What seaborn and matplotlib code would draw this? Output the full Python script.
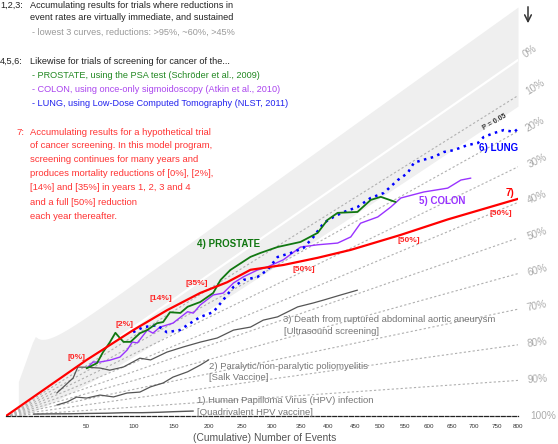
import numpy as np
import pandas as pd
import seaborn as sns
import matplotlib.pyplot as plt

# cumulative number of events and cumulative % mortality reduction
hpv_n = [10, 20, 35, 50, 70, 90, 110, 130, 150, 177]
hpv_red = [90, 93, 95, 95.5, 96, 96, 96.5, 96.5, 96.3, 96.2]

polio_n = [25, 33, 41, 50, 63, 77, 92, 107, 120, 136, 149, 169, 187, 199]
polio_red = [69, 67, 61.5, 68, 68, 74.5, 72.7, 74.3, 71, 69.8, 66.5, 65, 62.3, 60.2]

aaa_n = [25, 38, 42, 50, 63, 73, 88, 107, 120, 141, 163, 187, 212, 237, 264, 285,
         309, 344, 372, 391, 423, 455]
aaa_red = [35, 18.6, 2, 13, 26.7, 36.5, 40, 37.9, 44.2, 42.9, 44, 45.3, 46.9, 45.7,
           47.7, 46.4, 47.5, 46.2, 47.1, 47.5, 48, 48.5]

prostate_n = [50, 60, 66, 73, 79, 84, 88, 96, 107, 116, 128, 136, 145, 159, 169, 187,
              206, 217, 232, 264, 280, 309, 349, 380, 398, 417, 455, 481, 501, 531]
prostate_red = [15, 16.4, 5.3, -2, -9.4, 1.7, 9.3, 14.4, 11.1, 12.5, 11.6, 14, 9, 15,
                13.5, 15.6, 14.6, 8.8, 6.4, 6.4, 7.8, 10.5, 15, 15.5, 12.3, 11.9, 16.5,
                14.8, 15.9, 21]

colon_n = [51, 56, 63, 73, 84, 92, 98, 104, 116, 123, 132, 149, 169, 177, 187, 206,
           221, 237, 253, 275, 292, 319, 349, 380, 417, 442, 461, 495, 521, 542, 590,
           641, 670, 692]
colon_red = [14.2, 10.8, 17.5, 22.7, 25.6, 21.7, 15.8, 20, 12.5, 18.9, 17, 20, 17.4,
             21, 17.8, 16, 18.6, 15.9, 15.7, 16.5, 18, 19, 17.5, 21, 25, 25.3, 21.8,
             23, 21.9, 20.6, 22.9, 25.8, 25.4, 26.4]

lung_n = [99, 111, 128, 141, 159, 169, 187, 206, 221, 237, 253, 275, 292, 309, 331,
          354, 372, 391, 409, 428, 455, 481, 507, 535, 556, 569, 590, 611, 633, 654,
          685, 708, 721, 744, 767, 791, 800]
lung_red = [5.2, 6.9, 13.5, 25.2, 29, 27.8, 26.7, 27.9, 23.2, 18.4, 17.6, 20.5, 19.7,
            15.8, 17.6, 18.8, 16.3, 12.6, 12.6, 13.1, 14.5, 14, 15.1, 13.4, 13, 10.7,
            11.8, 12.9, 13.3, 14.6, 15.6, 16.8, 16, 16.6, 17.4, 19.6, 19.3]

model_n = [0, 50, 99, 141, 187, 227, 264, 319, 380, 442, 541, 641, 800]
model_red = [0, 0, 2.9, 5.5, 8.9, 13, 14, 21.7, 27, 30.7, 34, 36, 39]

fan_levels = [0, 10, 20, 30, 40, 50, 60, 70, 80, 90, 100]
x_ticks = [50, 100, 150, 200, 250, 300, 350, 400, 450, 500, 550, 600, 650, 700, 750, 800]


def fwd(x):
    x = np.asarray(x, dtype=float)
    return np.sign(x) * np.abs(x) ** (2 / 3)


def inv(x):
    x = np.asarray(x, dtype=float)
    return np.sign(x) * np.abs(x) ** 1.5


def height(n, red):
    # vertical position: a line through the origin for each % reduction
    return (1 - np.asarray(red, dtype=float) / 100) * fwd(n)


def px(x, y):
    return x / 558, 1 - y / 444


sns.set_style('white')
plt.rcParams['font.family'] = ['Liberation Sans', 'DejaVu Sans']

fig = plt.figure(figsize=(5.58, 4.44), dpi=100)
ax = fig.add_axes([6 / 558, 28 / 444, 512 / 558, 416 / 444])
ax.set_xscale('function', functions=(fwd, inv))
ax.set_xlim(0, 800)
ax.set_ylim(0, 100.7)

# 95% region around "no reduction"
nn = np.linspace(3, 800, 500)
p_lo = 0.5 - 0.98 / np.sqrt(nn)
p_hi = 0.5 + 0.98 / np.sqrt(nn)
r_lo = np.clip((1 - 2 * p_lo) / (1 - p_lo), None, 1.0)
r_hi = np.clip((1 - 2 * p_hi) / np.clip(1 - p_hi, 1e-6, None), -3.0, None)
ax.fill_between(nn, height(nn, 100 * r_lo), height(nn, 100 * r_hi),
                color='#efefef', lw=0, zorder=0)

# fan of reference lines
for lv in fan_levels[1:-1]:
    ax.plot([0, 800], height([0, 800], [lv, lv]), color='#b0b0b0', lw=0.8,
            ls=(0, (2, 2)), zorder=1)
ax.plot([0, 800], height([0, 800], [0, 0]), color='white', lw=1.6, zorder=1)

curves = [
    (hpv_n, hpv_red, '#555555', 1.0, '-'),
    (polio_n, polio_red, '#555555', 0.9, '-'),
    (aaa_n, aaa_red, '#555555', 0.9, '-'),
    (colon_n, colon_red, '#9933ff', 1.0, '-'),
    (lung_n, lung_red, '#0000ff', 1.8, (0, (1, 1.8))),
    (prostate_n, prostate_red, '#117711', 1.3, '-'),
]
for n, red, col, lw, ls in curves:
    df = pd.DataFrame({'n': n, 'h': height(n, red)})
    sns.lineplot(data=df, x='n', y='h', ax=ax, color=col, lw=lw, linestyle=ls,
                 estimator=None, zorder=3)

df = pd.DataFrame({'n': model_n, 'h': height(model_n, model_red)})
sns.lineplot(data=df, x='n', y='h', ax=ax, color='#ff0000', lw=1.6,
             estimator=None, zorder=4)

for s in ['left', 'right', 'top']:
    ax.spines[s].set_visible(False)
ax.spines['bottom'].set_linestyle((0, (3, 1.5)))
ax.spines['bottom'].set_color('#222222')
ax.spines['bottom'].set_linewidth(0.9)
ax.set_yticks([])
ax.set_xticks(x_ticks)
ax.set_xticklabels([str(t) for t in x_ticks])
ax.tick_params(axis='x', direction='inout', length=5, width=0.7, color='#222222',
               labelsize=4.5, labelcolor='#333333', pad=3)
ax.set_xlabel('')
ax.set_ylabel('')
fig.text(*px(265, 438), '(Cumulative) Number of Events', fontsize=7.4,
         color='#555555', ha='center', va='center')

# percentage labels at the end of each fan line
lab_x = [530, 535, 535, 537, 537, 537, 537, 537, 537, 537, 543]
for lv, lx in zip(fan_levels, lab_x):
    ly = 416 - (1 - lv / 100) * 365
    ang = np.degrees(np.arctan(0.695 * (1 - lv / 100)))
    fig.text(*px(lx, ly), f'{lv}%', fontsize=7.2, color='#aaaaaa', ha='center',
             va='center', rotation=ang, rotation_mode='anchor')

ax.annotate('', xy=px(528, 26), xytext=px(528, 4), xycoords='figure fraction',
            textcoords='figure fraction',
            arrowprops=dict(arrowstyle='->', color='#333333', lw=1.1,
                            mutation_scale=12))

fig.text(*px(495, 122), 'P = 0.05', fontsize=5, color='#333333', fontweight='bold',
         ha='center', va='center', rotation=30, rotation_mode='anchor')

# explanatory text
fs = 6.6
dark = '#222222'
fig.text(*px(0, 5), '1,2,3:', fontsize=fs, color=dark, va='center')
fig.text(*px(30, 5), 'Accumulating results for trials where reductions in',
         fontsize=fs, color=dark, va='center')
fig.text(*px(30, 18), 'event rates are virtually immediate, and sustained',
         fontsize=fs, color=dark, va='center')
fig.text(*px(32, 32), '- lowest 3 curves, reductions: >95%, ~60%, >45%',
         fontsize=fs, color='#999999', va='center')
fig.text(*px(0, 61), '4,5,6:', fontsize=fs, color=dark, va='center')
fig.text(*px(30, 61), 'Likewise for trials of screening for cancer of the...',
         fontsize=fs, color=dark, va='center')
fig.text(*px(32, 75), '- PROSTATE, using the PSA test (Schröder et al., 2009)',
         fontsize=fs, color='#228822', va='center')
fig.text(*px(32, 89), '- COLON, using once-only sigmoidoscopy (Atkin et al., 2010)',
         fontsize=fs, color='#aa44ee', va='center')
fig.text(*px(32, 103), '- LUNG, using Low-Dose Computed Tomography (NLST, 2011)',
         fontsize=fs, color='#2222ee', va='center')

red_lines = ['Accumulating results for a hypothetical trial',
             'of cancer screening. In this model program,',
             'screening continues for many years and',
             'produces mortality reductions of [0%], [2%],',
             '[14%] and [35%] in years 1, 2, 3 and 4',
             'and a full [50%] reduction',
             'each year thereafter.']
rfs = 6.8
fig.text(*px(16, 132), '7:', fontsize=rfs, color='#ff3333', va='center')
for i, line in enumerate(red_lines):
    fig.text(*px(30, 132 + 14 * i), line, fontsize=rfs, color='#ff3333', va='center')

# curve labels
gfs = 6.8
fig.text(*px(197, 400), '1) Human Papilloma Virus (HPV) infection', fontsize=gfs,
         color='#777777', va='center')
fig.text(*px(197, 412), '[Quadrivalent HPV vaccine]', fontsize=gfs, color='#777777',
         va='center')
fig.text(*px(209, 366), '2) Paralytic/non-paralytic poliomyelitis', fontsize=gfs,
         color='#777777', va='center')
fig.text(*px(209, 378), '[Salk Vaccine]', fontsize=gfs, color='#777777', va='center')
fig.text(*px(283, 319), '3) Death from ruptured abdominal aortic aneurysm',
         fontsize=gfs, color='#777777', va='center')
fig.text(*px(284, 331), '[Ultrasound screening]', fontsize=gfs, color='#777777',
         va='center')

fig.text(*px(197, 244), '4) PROSTATE', fontsize=7, color='#117711',
         fontweight='bold', va='center')
fig.text(*px(419, 201), '5) COLON', fontsize=7, color='#9933ff',
         fontweight='bold', va='center')
fig.text(*px(479, 148), '6) LUNG', fontsize=7, color='#0000ff',
         fontweight='bold', va='center')
fig.text(*px(506, 193), '7)', fontsize=7, color='#ff0000', fontweight='bold',
         va='center')

for x, y, t in [(68, 357, '[0%]'), (115, 324, '[2%]'), (150, 299, '[14%]'),
                (186, 283, '[35%]'), (292, 269, '[50%]'), (397, 240, '[50%]'),
                (490, 213, '[50%]')]:
    fig.text(*px(x, y), t, fontsize=6, color='#ff2222', fontweight='bold',
             va='center')

fig.savefig('out.png', dpi=100)
